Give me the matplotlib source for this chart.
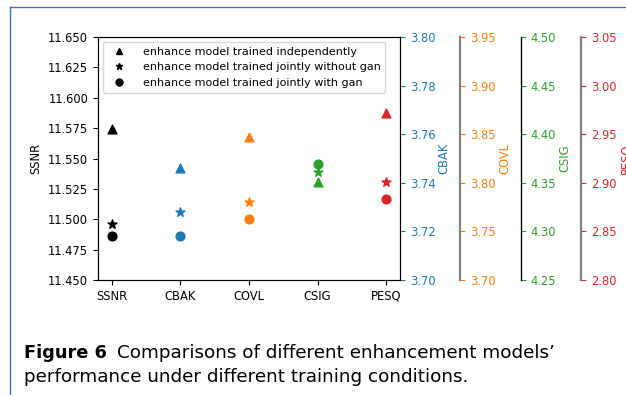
import matplotlib
matplotlib.use('Agg')
import matplotlib.pyplot as plt
from matplotlib.lines import Line2D

# metrics on the x axis
categories = ['SSNR', 'CBAK', 'COVL', 'CSIG', 'PESQ']

# scores per training condition
independent = [11.574, 3.746, 3.847, 4.351, 2.972]
joint_no_gan = [11.496, 3.728, 3.780, 4.361, 2.901]
joint_gan = [11.486, 3.718, 3.763, 4.369, 2.883]

legend_labels = ['enhance model trained independently',
                 'enhance model trained jointly without gan',
                 'enhance model trained jointly with gan']

colors = ['black', '#1f77b4', '#ff7f0e', '#2ca02c', '#d62728']
markers = ['^', '*', 'o']

plt.rcParams['font.family'] = 'DejaVu Sans'
plt.rcParams['font.size'] = 8.3

fig = plt.figure(figsize=(6.26, 3.95), dpi=100)
ax = fig.add_axes([0.1565, 0.291, 0.4824, 0.615])

# one y axis per metric; SSNR uses the host axis
axes = [ax]
for i in range(1, 5):
    axes.append(ax.twinx())

ylims = [(11.45, 11.65), (3.70, 3.80), (3.70, 3.95), (4.25, 4.50), (2.80, 3.05)]
yticks = [
    [11.45 + 0.025 * k for k in range(9)],
    [3.70 + 0.02 * k for k in range(6)],
    [3.70 + 0.05 * k for k in range(6)],
    [4.25 + 0.05 * k for k in range(6)],
    [2.80 + 0.05 * k for k in range(6)],
]
fmts = ['{:.3f}', '{:.2f}', '{:.2f}', '{:.2f}', '{:.2f}']
spine_pos = [None, 1.0, 1.2, 1.4, 1.6]
spine_colors = [None, None, 'gray', 'black', 'gray']

series = [independent, joint_no_gan, joint_gan]
for i, a in enumerate(axes):
    for s, m in zip(series, markers):
        a.scatter([i], [s[i]], marker=m, color=colors[i], s=40 if m != '*' else 45,
                  zorder=3)
    a.set_ylim(*ylims[i])
    a.set_yticks(yticks[i])
    a.set_yticklabels([fmts[i].format(v) for v in yticks[i]])
    if i > 0:
        a.tick_params(axis='y', colors=colors[i])
        a.set_ylabel(categories[i], color=colors[i])
        a.yaxis.set_label_coords(spine_pos[i] + 0.125, 0.5)
    if spine_colors[i] is not None:
        a.spines['right'].set_position(('axes', spine_pos[i]))
        a.spines['right'].set_color(spine_colors[i])
        a.spines['right'].set_linewidth(1.6 if spine_colors[i] == 'gray' else 1.0)
        for side in ['top', 'bottom', 'left']:
            a.spines[side].set_visible(False)

ax.set_ylabel('SSNR')
ax.set_xlim(-0.2, 4.2)
ax.set_xticks(range(len(categories)))
ax.set_xticklabels(categories)

handles = [Line2D([], [], linestyle='none', marker=m, color='black', markersize=5)
           for m in markers]
ax.legend(handles, legend_labels, loc='upper left', fontsize=8.0, labelspacing=0.52,
          borderaxespad=0.45, handletextpad=1.2)

# frame of the figure box in the paper
fig.add_artist(Line2D([10 / 626, 10 / 626], [0, 1 - 7 / 395], color='#4a6fa0', lw=1.0))
fig.add_artist(Line2D([10 / 626, 1], [1 - 7 / 395, 1 - 7 / 395], color='#4a6fa0', lw=1.0))

fig.text(24 / 626, 1 - 358 / 395, 'Figure 6', fontsize=12.8, fontweight='bold',
         va='baseline')
fig.text(117 / 626, 1 - 358 / 395, "Comparisons of different enhancement models\u2019",
         fontsize=13.2, va='baseline')
fig.text(24 / 626, 1 - 382 / 395, 'performance under different training conditions.',
         fontsize=13.2, va='baseline')

fig.savefig('out.png', dpi=100)
